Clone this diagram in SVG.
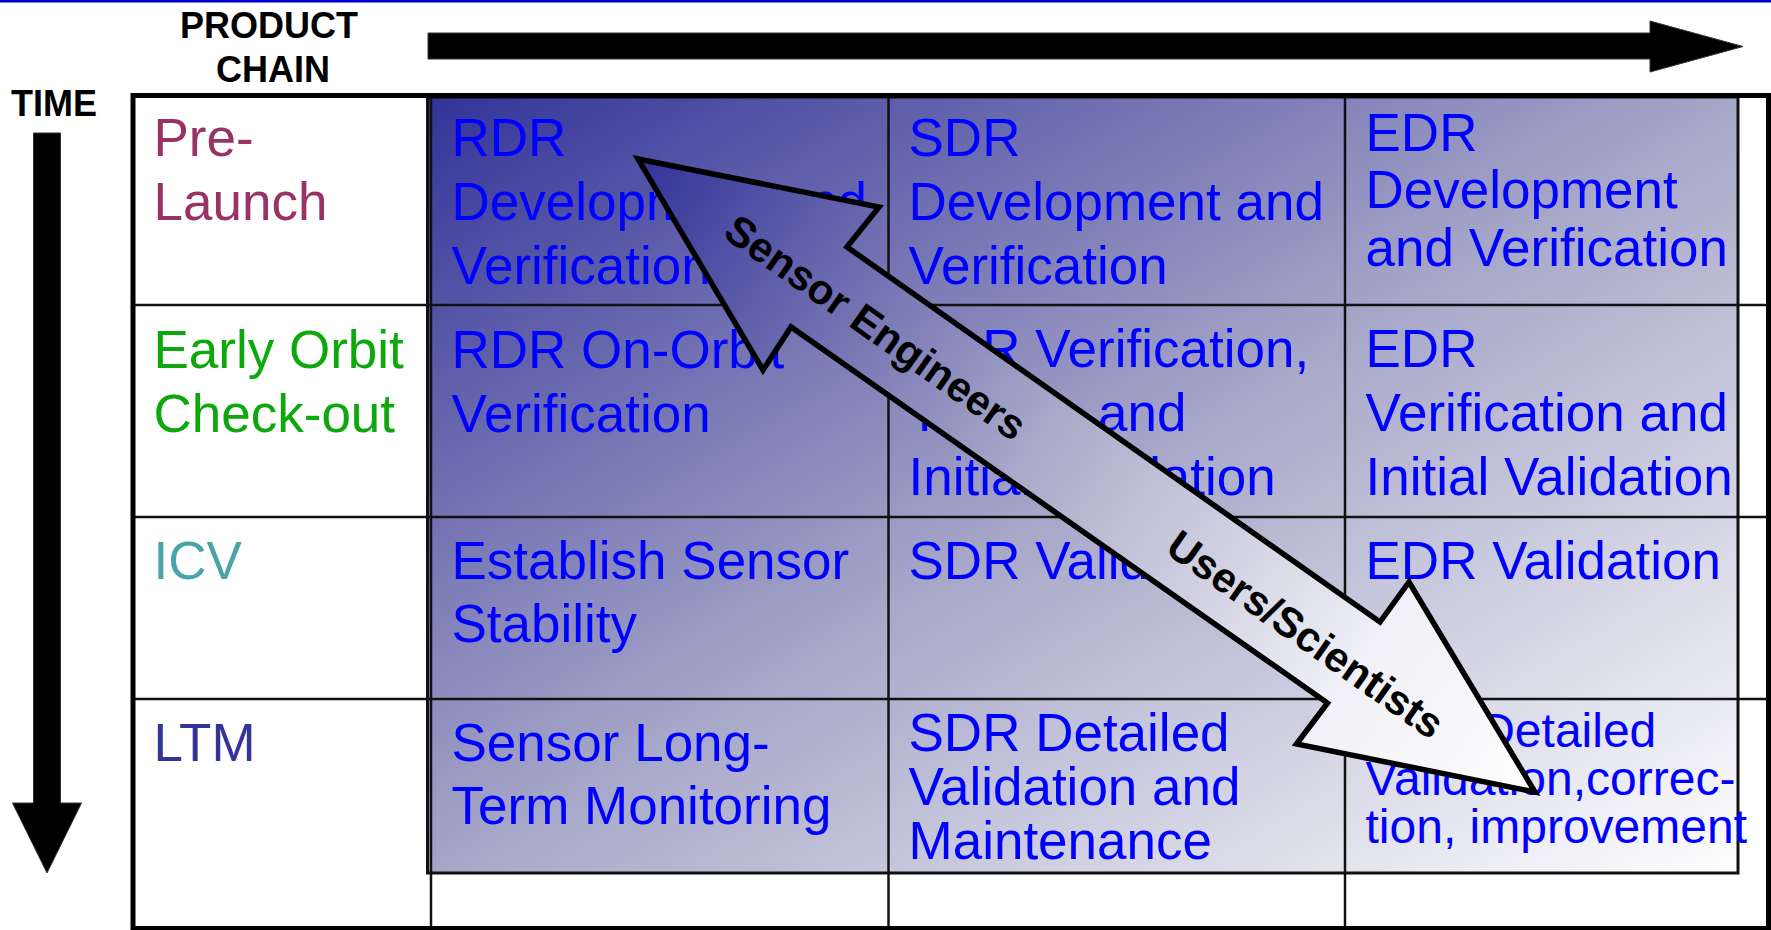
<svg xmlns="http://www.w3.org/2000/svg" width="1771" height="930" viewBox="0 0 1771 930">
  <defs>
    <linearGradient id="bgGrad" x1="0" y1="0" x2="1" y2="1">
      <stop offset="0" stop-color="#333399"/>
      <stop offset="0.5" stop-color="#a6a6c8"/>
      <stop offset="1" stop-color="#ffffff"/>
    </linearGradient>
    <linearGradient id="arrowGrad" gradientUnits="userSpaceOnUse" x1="638" y1="159" x2="1535" y2="792">
      <stop offset="0" stop-color="#333399"/>
      <stop offset="0.45" stop-color="#aaaaca"/>
      <stop offset="0.8" stop-color="#f0f0f6"/>
      <stop offset="1" stop-color="#ffffff"/>
    </linearGradient>
  </defs>
  <style>
    text { font-family: "Liberation Sans", Arial, sans-serif; }
    .cell { font-size: 53px; fill: #0000ff; }
    .small { font-size: 48px; fill: #0000ff; }
    .lbl { font-size: 53px; }
    .head { font-size: 36px; font-weight: bold; fill: #000000; text-anchor: middle; }
    .atext { font-size: 42px; font-weight: bold; fill: #000000; text-anchor: middle; }
    .grid { stroke: #111111; stroke-width: 2.5; fill: none; }
    .axis { fill: #000000; stroke: #333333; stroke-width: 1; }
  </style>
  <rect width="1771" height="930" fill="#ffffff"/>
  <line x1="0" y1="1.25" x2="1771" y2="1.25" stroke="#0000cc" stroke-width="2.5"/>

  <g id="shading">
    <rect x="427.5" y="97" width="1310.5" height="776" fill="url(#bgGrad)" stroke="#111111" stroke-width="3"/>
  </g>

  <g id="grid">
    <line class="grid" x1="133" y1="305" x2="1768" y2="305"/>
    <line class="grid" x1="133" y1="517" x2="1768" y2="517"/>
    <line class="grid" x1="133" y1="699" x2="1768" y2="699"/>
    <line class="grid" x1="431" y1="95" x2="431" y2="928"/>
    <line class="grid" x1="888.5" y1="95" x2="888.5" y2="928"/>
    <line class="grid" x1="1345" y1="95" x2="1345" y2="928"/>
    <rect x="133" y="95.5" width="1635.5" height="833" fill="none" stroke="#000000" stroke-width="5"/>
  </g>

  <g id="header-product-chain">
    <text class="head" x="269" y="38">PRODUCT</text>
    <text class="head" x="273" y="82">CHAIN</text>
  </g>
  <g id="header-time">
    <text class="head" x="54" y="116">TIME</text>
  </g>

  <g id="row-prelaunch">
    <text class="lbl" x="153.5" y="156" fill="#993366">Pre-</text>
    <text class="lbl" x="153.5" y="220" fill="#993366">Launch</text>
  </g>
  <g id="row-early-orbit">
    <text class="lbl" x="153.5" y="368" fill="#0ca80c">Early Orbit</text>
    <text class="lbl" x="153.5" y="432" fill="#0ca80c">Check-out</text>
  </g>
  <g id="row-icv">
    <text class="lbl" x="153.5" y="579" fill="#48a4a8">ICV</text>
  </g>
  <g id="row-ltm">
    <text class="lbl" x="153.5" y="761" fill="#333399">LTM</text>
  </g>

  <g id="cell-rdr-dev">
    <text class="cell" x="451.5" y="156">RDR</text>
    <text class="cell" x="451.5" y="220">Development and</text>
    <text class="cell" x="451.5" y="284">Verification</text>
  </g>
  <g id="cell-sdr-dev">
    <text class="cell" x="908.5" y="156">SDR</text>
    <text class="cell" x="908.5" y="220">Development and</text>
    <text class="cell" x="908.5" y="284">Verification</text>
  </g>
  <g id="cell-edr-dev">
    <text class="cell" x="1365.5" y="151">EDR</text>
    <text class="cell" x="1365.5" y="208">Development</text>
    <text class="cell" x="1365.5" y="265.5">and Verification</text>
  </g>

  <g id="cell-rdr-orbit">
    <text class="cell" x="451.5" y="368">RDR On-Orbit</text>
    <text class="cell" x="451.5" y="432">Verification</text>
  </g>
  <g id="cell-sdr-orbit">
    <text class="cell" x="908.5" y="367">SDR Verification,</text>
    <text class="cell" x="908.5" y="431">Tuning, and</text>
    <text class="cell" x="908.5" y="495">Initial Validation</text>
  </g>
  <g id="cell-edr-orbit">
    <text class="cell" x="1365.5" y="367">EDR</text>
    <text class="cell" x="1365.5" y="431">Verification and</text>
    <text class="cell" x="1365.5" y="495">Initial Validation</text>
  </g>

  <g id="cell-rdr-icv">
    <text class="cell" x="451.5" y="579">Establish Sensor</text>
    <text class="cell" x="451.5" y="642">Stability</text>
  </g>
  <g id="cell-sdr-icv">
    <text class="cell" x="908.5" y="579">SDR Validation</text>
  </g>
  <g id="cell-edr-icv">
    <text class="cell" x="1365.5" y="579">EDR Validation</text>
  </g>

  <g id="cell-rdr-ltm">
    <text class="cell" x="451.5" y="761">Sensor Long-</text>
    <text class="cell" x="451.5" y="824">Term Monitoring</text>
  </g>
  <g id="cell-sdr-ltm">
    <text class="cell" x="908.5" y="751">SDR Detailed</text>
    <text class="cell" x="908.5" y="805">Validation and</text>
    <text class="cell" x="908.5" y="859">Maintenance</text>
  </g>
  <g id="cell-edr-ltm">
    <text class="small" x="1365.5" y="747">EDR Detailed</text>
    <text class="small" x="1365.5" y="795">Validation,correc-</text>
    <text class="small" x="1365.5" y="843">tion, improvement</text>
  </g>

  <g id="connectors">
    <polygon class="axis" points="428,33 1650,33 1650,21 1743,46.5 1650,72 1650,59 428,59"/>
    <polygon class="axis" points="33.5,133 60.5,133 60.5,803 81.5,803 47,873 12.5,803 33.5,803"/>
    <polygon points="638,159 879,207 847,247 1380,622 1409,582 1535,792 1296.5,744 1327.5,703 791,327 763,370" fill="url(#arrowGrad)" stroke="#000000" stroke-width="5.5" stroke-linejoin="miter"/>
    <text class="atext" transform="translate(876,327) rotate(35.2)" x="0" y="15">Sensor Engineers</text>
    <text class="atext" transform="translate(1306,634) rotate(35.2)" x="0" y="15">Users/Scientists</text>
  </g>
</svg>
